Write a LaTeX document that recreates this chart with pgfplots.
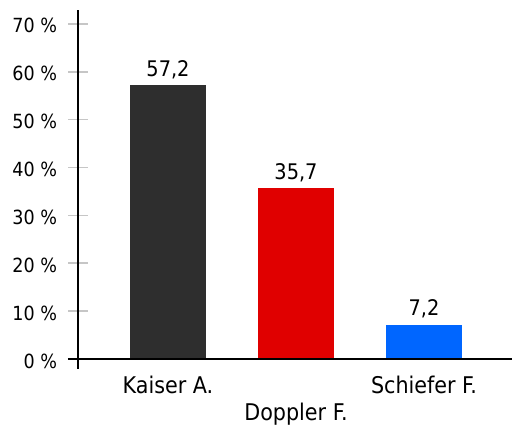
\documentclass[border=0pt]{standalone}
\usepackage{pgfplots}
\pgfplotsset{compat=1.18}
\usepackage{fontspec}
\setmainfont{DejaVu Sans Condensed}
\definecolor{cdark}{HTML}{2E2E2E}
\definecolor{cred}{HTML}{E00000}
\definecolor{cblue}{HTML}{0066FF}
\begin{document}
\begin{tikzpicture}
\begin{axis}[
  scale only axis, width=434pt, height=349pt,
  xmin=-0.703, xmax=2.6875, ymin=0, ymax=72.9,
  axis x line=bottom, axis y line=left,
  axis line style={-, line width=1.5pt, black},
  ytick={0,10,...,70},
  yticklabels={0 \%,10 \%,20 \%,30 \%,40 \%,50 \%,60 \%,70 \%},
  yticklabel style={font=\fontsize{19.5}{22}\selectfont, anchor=east, xshift=-8pt, yshift=-2pt},
  xtick={0,1,2},
  xticklabels={Kaiser A.,\raisebox{-27pt}[\height][0pt]{Doppler F.},Schiefer F.},
  xticklabel style={font=\fontsize{23}{26}\selectfont, anchor=north, yshift=-4pt},
  x tick style={draw=none},
  y tick style={draw=gray!45, line width=1.5pt},
  major tick length=19pt,
  enlargelimits=false, clip=false,
  ybar, bar width=76pt, bar shift=0pt,
  nodes near coords, point meta=explicit symbolic,
  nodes near coords style={font=\fontsize{21.5}{24}\selectfont, anchor=south, inner sep=2pt, yshift=4pt},
  tick align=center,
]
\addplot[fill=cdark, draw=none] coordinates {(0,57.2) [57,2]};
\addplot[fill=cred, draw=none] coordinates {(1,35.7) [35,7]};
\addplot[fill=cblue, draw=none] coordinates {(2,7.2) [7,2]};
\draw[line width=1.5pt] ([xshift=-10pt]axis cs:-0.703,0) -- (axis cs:2.6875,0);
\draw[line width=1.5pt] (axis cs:-0.703,0) -- ([yshift=-10pt]axis cs:-0.703,0);
\coordinate (o) at (rel axis cs:0,0);
\coordinate (tr) at (rel axis cs:1,1);
\end{axis}
\pgfresetboundingbox
\path ([xshift=-78pt,yshift=-66pt]o) rectangle ([yshift=10pt]tr);
\end{tikzpicture}
\end{document}
